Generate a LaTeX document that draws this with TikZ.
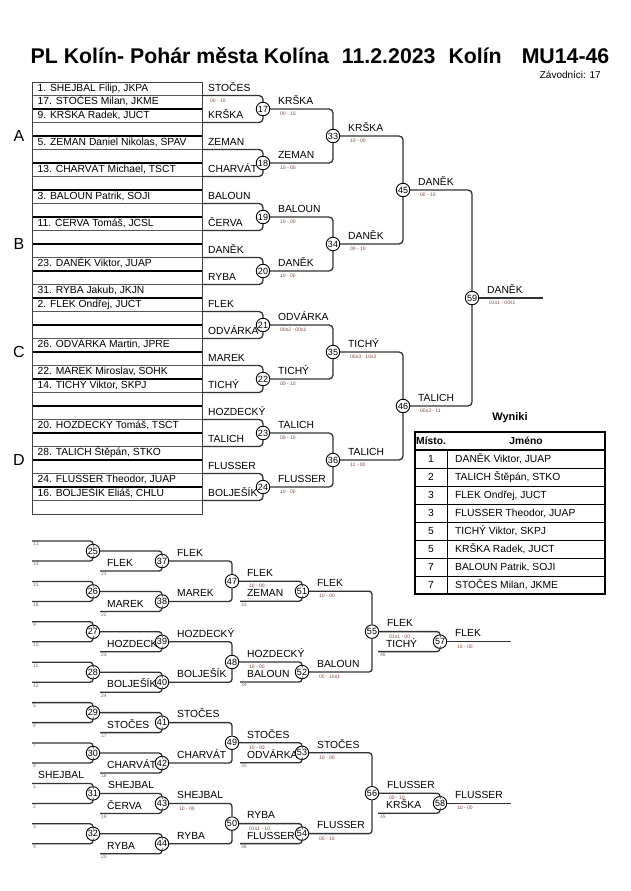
\documentclass[tikz,border=0pt]{standalone}
\usepackage{fontspec}
\setmainfont{Liberation Sans}
\usetikzlibrary{calc}
\definecolor{scorecol}{RGB}{135,70,60}
\definecolor{lblcol}{RGB}{110,110,110}
\definecolor{brcol}{RGB}{50,50,50}
\tikzset{
 nm/.style={anchor=base west, inner sep=0pt, yshift=-3.7pt, font=\fontsize{10.3}{12}\selectfont},
 sc/.style={anchor=base west, inner sep=0pt, yshift=-1.8pt, font=\fontsize{5}{6}\selectfont, text=scorecol},
 lb/.style={anchor=base west, inner sep=0pt, yshift=-1.8pt, font=\fontsize{5}{6}\selectfont, text=lblcol},
 mc/.style={circle, draw=black, line width=0.9pt, fill=white, minimum size=13.5pt, inner sep=0pt, font=\fontsize{9}{10}\selectfont},
 br/.style={draw=brcol, line width=1.3pt, rounded corners=4pt},
 brs/.style={draw=brcol, line width=1.3pt, rounded corners=3pt},
 thickrule/.style={draw=black, line width=1.8pt},
 thinrule/.style={draw=black!65, line width=0.8pt},
 grp/.style={inner sep=0pt, font=\fontsize{16}{18}\selectfont},
 tabtxt/.style={inner sep=0pt, font=\fontsize{10.3}{12}\selectfont},
}
\begin{document}
\begin{tikzpicture}[x=1pt,y=-1pt]
\useasboundingbox (0,0) rectangle (630,891);
\fill[white] (0,0) rectangle (630,891);

% title
\node[anchor=base west, inner sep=0pt, font=\bfseries\fontsize{21.3}{24}\selectfont] (title) at (30.5,63.5)
 {PL Kolín- Pohár města Kolína\hspace{13pt}11.2.2023\hspace{13pt}Kolín\hspace{20pt}MU14-46};
\node[anchor=base east, inner sep=0pt, font=\fontsize{10}{11}\selectfont] (zav) at (601,78.5) {Závodníci: 17};

% entry list
\foreach \k in {2,4,...,30} \draw[thickrule] (32,{82+13.5*\k}) -- (202,{82+13.5*\k});
\foreach \k in {1,3,...,31} \draw[thinrule] (32,{82+13.5*\k}) -- (202,{82+13.5*\k});
\draw[draw=black!75, line width=1pt] (32,82) rectangle (202,514);
\foreach \r/\t in {0/{1. SHEJBAL Filip, JKPA}, 1/{17. STOČES Milan, JKME}, 2/{9. KRŠKA Radek, JUCT},
 4/{5. ZEMAN Daniel Nikolas, SPAV}, 6/{13. CHARVÁT Michael, TSCT}, 8/{3. BALOUN Patrik, SOJI},
 10/{11. ČERVA Tomáš, JCSL}, 13/{23. DANĚK Viktor, JUAP}, 15/{31. RYBA Jakub, JKJN},
 16/{2. FLEK Ondřej, JUCT}, 19/{26. ODVÁRKA Martin, JPRE}, 21/{22. MAREK Miroslav, SOHK},
 22/{14. TICHÝ Viktor, SKPJ}, 25/{20. HOZDECKÝ Tomáš, TSCT}, 27/{28. TALICH Štěpán, STKO},
 29/{24. FLUSSER Theodor, JUAP}, 30/{16. BOLJEŠÍK Eliáš, CHLU}}
 \node[nm] (row\r) at (37.5,{87.75+13.5*\r}) {\t};

\node[grp] (gA) at (19,136) {A};
\node[grp] (gB) at (19,244) {B};
\node[grp] (gC) at (19,352) {C};
\node[grp] (gD) at (19,460) {D};

% upper bracket, round 1
\foreach \m/\ta/\tb [count=\k from 0] in {17/STOČES/KRŠKA, 18/ZEMAN/CHARVÁT, 19/BALOUN/ČERVA, 20/DANĚK/RYBA,
 21/FLEK/ODVÁRKA, 22/MAREK/TICHÝ, 23/HOZDECKÝ/TALICH, 24/FLUSSER/BOLJEŠÍK} {
 \node[nm] (pa\m) at (208,{87.75+54*\k}) {\ta};
 \node[nm] (pb\m) at (208,{114.75+54*\k}) {\tb};
 \node[mc] (m\m) at (263,{109+54*\k}) {\m};
 \coordinate (a\m) at (202,{95.5+54*\k});
 \coordinate (b\m) at (202,{122.5+54*\k});
 \draw[br] (a\m) -| (m\m.north);
 \draw[br] (b\m) -| (m\m.south);
}
\node[sc] (s0) at (210,101) {00 - 10};

% upper bracket, later rounds
\foreach \m/\a/\b [count=\k from 0] in {33/17/18, 34/19/20, 35/21/22, 36/23/24} {
 \node[mc] (m\m) at (333,{136+108*\k}) {\m};
 \draw[br] (m\a.east) -| (m\m.north);
 \draw[br] (m\b.east) -| (m\m.south);
}
\foreach \m/\a/\b/\yy in {45/33/34/190, 46/35/36/406} {
 \node[mc] (m\m) at (403,\yy) {\m};
 \draw[br] (m\a.east) -| (m\m.north);
 \draw[br] (m\b.east) -| (m\m.south);
}
\node[mc] (m59) at (472,298) {59};
\draw[br] (m45.east) -| (m59.north);
\draw[br] (m46.east) -| (m59.south);
\coordinate (fin) at (543,298);
\draw[br] (m59.east) -- (fin);

\foreach \m/\w/\s in {17/KRŠKA/00 - 10, 18/ZEMAN/10 - 00, 19/BALOUN/10 - 00, 20/DANĚK/10 - 00,
 21/ODVÁRKA/00s2 - 00s1, 22/TICHÝ/00 - 10, 23/TALICH/00 - 10, 24/FLUSSER/10 - 00,
 33/KRŠKA/10 - 00, 34/DANĚK/00 - 10, 35/TICHÝ/00s3 - 10s2, 36/TALICH/11 - 00,
 45/DANĚK/00 - 10, 46/TALICH/00s3 - 11, 59/DANĚK/01s1 - 00s1} {
 \node[nm] (w\m) at ($(m\m)+(15,-8.5)$) {\w};
 \node[sc] (s\m) at ($(m\m)+(17,5)$) {\s};
}

% results table
\node[inner sep=0pt, font=\bfseries\fontsize{11}{13}\selectfont] (wyn) at (510,418) {Wyniki};
\foreach \j in {1,...,7} \draw[draw=black, line width=0.8pt] (415,{450+18*\j}) -- (605,{450+18*\j});
\draw[draw=black, line width=1.2pt] (415,450) -- (605,450);
\draw[draw=black, line width=0.8pt] (447,450) -- (447,594);
\draw[draw=black, line width=1.6pt] (415,432) rectangle (605,594);
\node[tabtxt, anchor=west, font=\bfseries\fontsize{10.3}{12}\selectfont] (hm) at (416,441) {Místo.};
\node[tabtxt, font=\bfseries\fontsize{10.3}{12}\selectfont] (hj) at (526,441) {Jméno};
\foreach \p/\t [count=\j from 0] in {1/{DANĚK Viktor, JUAP}, 2/{TALICH Štěpán, STKO}, 3/{FLEK Ondřej, JUCT},
 3/{FLUSSER Theodor, JUAP}, 5/{TICHÝ Viktor, SKPJ}, 5/{KRŠKA Radek, JUCT}, 7/{BALOUN Patrik, SOJI}, 7/{STOČES Milan, JKME}} {
 \node[tabtxt, anchor=base] (tp\j) at (431,{462.7+18*\j}) {\p};
 \node[tabtxt, anchor=base west] (tn\j) at (455,{462.7+18*\j}) {\t};
}

% lower bracket, round 1
\foreach \m/\labA/\labB [count=\k from 0] in {25/13/14,26/15/16,27/9/10,28/11/12,29/5/6,30/7/8,31/1/2,32/3/4} {
 \node[mc] (m\m) at (93,{551+40.4*\k}) {\m};
 \coordinate (a\m) at (32,{541+40.4*\k});
 \coordinate (b\m) at (32,{561+40.4*\k});
 \draw[brs] (a\m) -| (m\m.north);
 \draw[brs] (b\m) -| (m\m.south);
 \node[lb] (la\m) at (33,{544+40.4*\k}) {\labA};
 \node[lb] (lb\m) at (33,{564+40.4*\k}) {\labB};
}
\node[nm] (e31) at (38,775) {SHEJBAL};
\node[nm] (w31) at ($(m31)+(15,-8.5)$) {SHEJBAL};

% lower bracket, round 2
\foreach \m/\src/\nmx/\lab [count=\k from 0] in {37/25/FLEK/21, 38/26/MAREK/22, 39/27/HOZDECKÝ/23, 40/28/BOLJEŠÍK/24,
 41/29/STOČES/17, 42/30/CHARVÁT/18, 43/31/ČERVA/19, 44/32/RYBA/20} {
 \node[nm] (q\m) at (107,{563+40.4*\k}) {\nmx};
 \node[mc] (m\m) at (162,{561+40.4*\k}) {\m};
 \coordinate (c\m) at (100,{571+40.4*\k});
 \draw[brs] (m\src.east) -| (m\m.north);
 \draw[brs] (c\m) -| (m\m.south);
 \node[lb] (l\m) at (101,{574+40.4*\k}) {\lab};
}

% lower bracket, round 3
\foreach \m/\a/\b/\yy in {47/37/38/581.2, 48/39/40/662, 49/41/42/742.8, 50/43/44/823.6} {
 \node[mc] (m\m) at (232,\yy) {\m};
 \draw[brs] (m\a.east) -| (m\m.north);
 \draw[brs] (m\b.east) -| (m\m.south);
}

% lower bracket, round 4
\foreach \m/\src/\nmx/\lab/\yy in {51/47/ZEMAN/33/591.2, 52/48/BALOUN/34/672, 53/49/ODVÁRKA/35/752.8, 54/50/FLUSSER/36/833.6} {
 \node[nm] (q\m) at (247,{\yy+2}) {\nmx};
 \node[mc] (m\m) at (302,\yy) {\m};
 \coordinate (c\m) at (240,{\yy+10});
 \draw[brs] (m\src.east) -| (m\m.north);
 \draw[brs] (c\m) -| (m\m.south);
 \node[lb] (l\m) at (241,{\yy+13}) {\lab};
}

% lower bracket, round 5
\foreach \m/\a/\b/\yy in {55/51/52/631.6, 56/53/54/793.2} {
 \node[mc] (m\m) at (372,\yy) {\m};
 \draw[brs] (m\a.east) -| (m\m.north);
 \draw[brs] (m\b.east) -| (m\m.south);
}

% lower bracket, round 6
\foreach \m/\src/\nmx/\lab/\yy in {57/55/TICHÝ/46/641.6, 58/56/KRŠKA/45/803.2} {
 \node[nm] (q\m) at (386,{\yy+2}) {\nmx};
 \node[mc] (m\m) at (440,\yy) {\m};
 \coordinate (c\m) at (378,{\yy+10});
 \draw[brs] (m\src.east) -| (m\m.north);
 \draw[brs] (c\m) -| (m\m.south);
 \node[lb] (l\m) at (380,{\yy+13}) {\lab};
 \coordinate (o\m) at (511,\yy);
 \draw[br] (m\m.east) -- (o\m);
}

% lower bracket winners
\foreach \m/\w in {37/FLEK, 38/MAREK, 39/HOZDECKÝ, 40/BOLJEŠÍK, 41/STOČES, 42/CHARVÁT, 43/SHEJBAL, 44/RYBA}
 \node[nm] (w\m) at ($(m\m)+(15,-8.5)$) {\w};
\node[sc] (s43) at ($(m43)+(17,4.8)$) {10 - 00};
\foreach \m/\w/\s in {47/FLEK/10 - 00, 48/HOZDECKÝ/10 - 00, 49/STOČES/10 - 00, 50/RYBA/01s1 - 10,
 51/FLEK/10 - 00, 52/BALOUN/00 - 10s1, 53/STOČES/10 - 00, 54/FLUSSER/00 - 10,
 55/FLEK/01s1 - 00, 56/FLUSSER/00 - 10, 57/FLEK/10 - 00, 58/FLUSSER/10 - 00} {
 \node[nm] (w\m) at ($(m\m)+(15,-8.5)$) {\w};
 \node[sc] (s\m) at ($(m\m)+(17,4.8)$) {\s};
}
\end{tikzpicture}
\end{document}
